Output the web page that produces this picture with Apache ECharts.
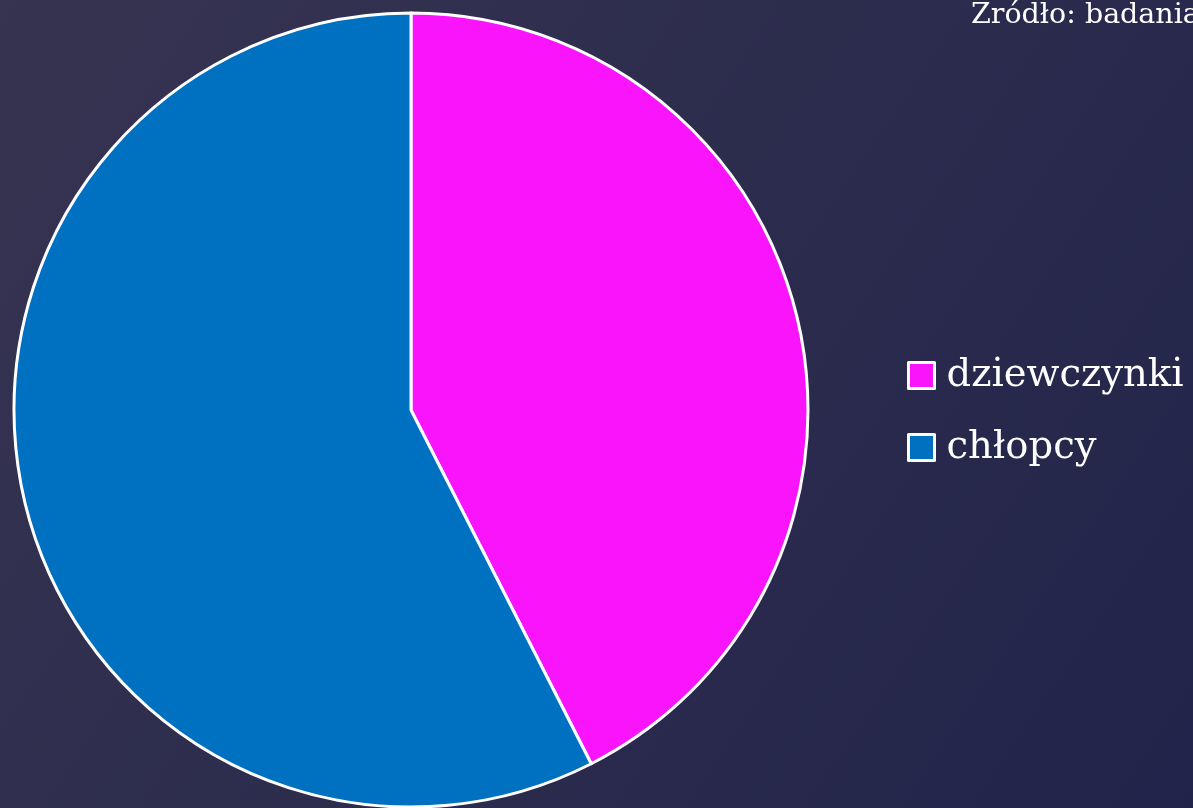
<!DOCTYPE html>
<html>
<head>
<meta charset="utf-8">
<script src="https://cdn.jsdelivr.net/npm/echarts@6/dist/echarts.min.js"></script>
<style>
  html, body { margin: 0; padding: 0; }
  #chart { width: 1193px; height: 808px; }
</style>
</head>
<body>
<div id="chart"></div>
<script>
const categories = ["dziewczynki", "chłopcy"];
const values = [17, 23];
const colors = ["#fa14fc", "#0070c0"];
const sourceNote = "Zródło: badania własne";

const chart = echarts.init(document.getElementById("chart"));

const option = {
    backgroundColor: {
        type: "linear", x: 0, y: 0, x2: 1, y2: 1,
        colorStops: [
            {offset: 0, color: "#373451"},
            {offset: 1, color: "#21244a"}
        ]
    },
    animation: false,
    title: {
        text: sourceNote,
        left: 966,
        top: -4,
        textStyle: {
            color: "#ffffff",
            fontFamily: "DejaVu Serif",
            fontWeight: "normal",
            fontSize: 28.5
        }
    },
    legend: {
        orient: "vertical",
        left: 902,
        top: 351,
        itemWidth: 26,
        itemHeight: 26,
        itemGap: 33,
        icon: "rect",
        data: categories,
        itemStyle: {borderColor: "#ffffff", borderWidth: 3},
        textStyle: {
            color: "#ffffff",
            fontFamily: "DejaVu Serif",
            fontSize: 38.5,
            padding: [0, 0, 0, 7]
        }
    },
    series: [{
        type: "pie",
        center: [411, 410],
        radius: 397,
        startAngle: 90,
        clockwise: true,
        label: {show: false},
        labelLine: {show: false},
        itemStyle: {borderColor: "#ffffff", borderWidth: 3},
        data: categories.map((name, i) => ({
            name,
            value: values[i],
            itemStyle: {color: colors[i]}
        }))
    }]
};

chart.setOption(option);
</script>
</body>
</html>
